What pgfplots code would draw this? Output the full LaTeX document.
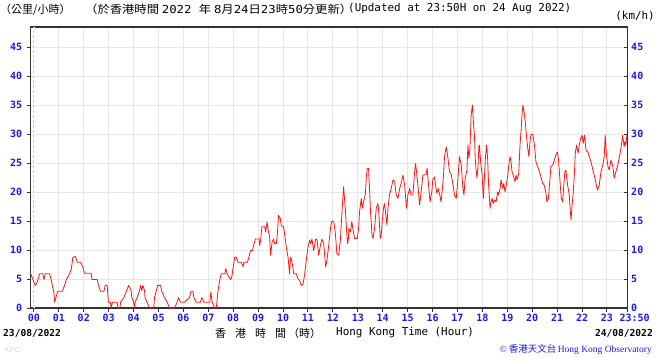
\documentclass[border=0pt]{standalone}
\usepackage{pgfplots}
\pgfplotsset{compat=1.18}
\usepackage{pgfplotstable}
\usepackage{fontspec}
\setmainfont{DejaVu Sans Mono}
\newfontfamily\cjk{Noto Sans CJK TC}
\newfontfamily\mono{DejaVu Sans Mono}
\newfontfamily\serif{Liberation Serif}
\newfontfamily\sans{Liberation Sans}
\definecolor{tickblue}{RGB}{25,25,235}
\definecolor{gridgray}{RGB}{230,230,230}
\definecolor{axisgray}{RGB}{50,50,50}
\definecolor{hkored}{RGB}{255,20,20}

\pgfplotstableread{
h v
-0.13 5.9
-0.04 4.9
0.05 3.9
0.13 4.4
0.23 5.9
0.36 5.9
0.40 4.9
0.46 5.9
0.63 5.9
0.70 4.7
0.80 2.7
0.83 1.0
0.90 2.1
0.96 2.9
1.14 2.9
1.23 3.9
1.30 4.9
1.43 5.9
1.50 6.7
1.56 8.7
1.67 8.9
1.74 7.9
1.87 7.9
1.97 7.0
2.03 6.0
2.30 6.0
2.33 4.9
2.54 4.9
2.59 3.9
2.67 2.9
2.81 2.9
2.86 3.9
2.94 3.9
2.99 1.0
3.07 1.0
3.10 0
3.15 1.0
3.34 1.0
3.37 0
3.45 0
3.48 1.0
3.61 1.8
3.72 3.0
3.80 3.9
3.90 3.0
3.93 1.8
4.00 1.0
4.04 0
4.06 1.0
4.14 1.8
4.24 3.0
4.28 3.9
4.33 3.0
4.37 3.9
4.44 3.0
4.46 1.8
4.54 1.0
4.64 0
4.81 0
4.84 1.8
4.91 3.0
4.97 3.9
5.08 3.9
5.13 2.9
5.24 1.8
5.35 1.0
5.44 0
5.64 0
5.75 1.0
5.80 1.8
5.88 1.0
6.04 1.0
6.24 1.8
6.31 2.9
6.38 2.9
6.42 1.8
6.51 1.0
6.68 1.0
6.74 1.8
6.82 1.0
7.06 1.0
7.10 2.8
7.15 1.0
7.26 0
7.32 0
7.39 3.0
7.46 4.8
7.52 5.9
7.66 5.9
7.70 6.8
7.75 5.9
7.83 5.3
7.90 4.9
7.95 5.6
8.00 7.1
8.06 8.8
8.12 8.8
8.19 7.9
8.33 7.9
8.39 7.1
8.43 7.9
8.57 7.9
8.63 8.8
8.69 9.9
8.77 9.9
8.82 10.8
8.89 11.9
9.04 11.9
9.06 10.8
9.10 11.8
9.15 14.0
9.26 14.0
9.30 13.1
9.36 14.8
9.40 13.4
9.46 12.3
9.50 9.1
9.56 11.4
9.62 11.9
9.66 11.1
9.73 11.1
9.77 12.8
9.82 16.0
9.89 15.4
9.93 14.2
10.02 14.0
10.06 12.8
10.13 10.5
10.20 8.8
10.26 5.9
10.30 8.8
10.36 7.9
10.43 5.9
10.53 5.9
10.60 5.0
10.66 4.8
10.73 3.9
10.80 4.1
10.87 5.9
10.93 8.2
11.00 10.5
11.07 11.7
11.11 11.1
11.16 11.9
11.23 9.9
11.31 11.9
11.36 11.9
11.43 9.1
11.50 10.8
11.56 11.9
11.63 11.1
11.71 7.1
11.77 8.5
11.84 11.1
11.91 14.0
11.96 15.0
12.04 14.8
12.10 12.8
12.16 9.4
12.23 9.1
12.30 11.7
12.36 16.3
12.43 20.9
12.50 17.0
12.56 12.6
12.59 11.1
12.62 11.9
12.64 13.7
12.70 13.1
12.76 14.9
12.80 13.7
12.87 12.0
12.98 12.0
13.03 13.7
13.07 16.6
13.14 18.9
13.18 17.2
13.23 18.3
13.30 19.5
13.34 22.4
13.38 24.1
13.43 24.1
13.47 20.6
13.51 16.6
13.57 12.6
13.61 12.0
13.67 13.7
13.74 17.2
13.81 18.0
13.85 16.0
13.90 12.0
13.94 12.6
13.98 14.9
14.03 17.2
14.07 18.0
14.11 16.6
14.17 14.3
14.21 17.2
14.27 19.5
14.34 20.6
14.41 22.1
14.48 21.8
14.54 19.5
14.61 18.9
14.68 20.6
14.74 21.5
14.81 22.9
14.88 21.2
14.92 18.9
14.96 17.2
15.01 19.5
15.08 20.6
15.14 19.5
15.21 19.5
15.28 23.5
15.32 24.9
15.37 22.9
15.41 21.2
15.48 17.8
15.54 20.0
15.61 22.9
15.74 23.0
15.78 24.1
15.84 21.2
15.90 18.3
15.97 20.0
16.01 22.1
16.08 22.6
16.12 21.2
16.17 19.8
16.23 20.6
16.29 19.5
16.34 18.3
16.39 20.3
16.44 22.9
16.48 26.1
16.55 27.8
16.61 26.1
16.68 23.5
16.75 23.0
16.81 21.5
16.88 19.5
16.95 18.9
17.01 21.8
17.08 26.1
17.15 24.7
17.22 20.6
17.26 19.5
17.31 22.4
17.38 23.8
17.42 28.1
17.46 25.8
17.50 27.5
17.55 33.3
17.60 35.0
17.64 32.1
17.68 29.8
17.72 25.2
17.78 22.4
17.82 24.1
17.86 27.8
17.88 28.1
17.93 25.2
17.99 22.9
18.04 18.9
18.08 22.4
18.12 25.8
18.17 28.1
18.21 25.8
18.25 21.2
18.31 17.2
18.35 18.3
18.39 18.9
18.44 18.0
18.48 18.6
18.55 18.3
18.61 20.0
18.65 19.5
18.71 20.6
18.75 22.1
18.82 20.6
18.86 21.5
18.91 20.0
18.98 21.8
19.02 22.9
19.06 24.6
19.11 26.1
19.15 25.2
19.19 23.5
19.24 22.9
19.31 21.8
19.35 22.9
19.39 22.1
19.46 23.2
19.51 28.1
19.55 30.4
19.59 33.3
19.63 35.0
19.68 33.6
19.72 32.1
19.78 29.2
19.83 27.2
19.87 26.1
19.91 28.7
19.95 29.9
20.02 30.0
20.09 28.1
20.15 25.2
20.22 24.4
20.29 23.5
20.35 22.6
20.42 21.5
20.48 21.2
20.55 19.8
20.59 18.3
20.65 18.9
20.71 22.1
20.75 24.4
20.82 24.6
20.89 25.5
20.95 26.4
21.01 26.9
21.05 25.8
21.09 23.5
21.13 20.9
21.17 18.9
21.22 18.3
21.26 20.6
21.31 23.5
21.35 23.8
21.42 21.2
21.49 19.5
21.52 17.2
21.56 15.2
21.60 17.8
21.64 19.5
21.69 22.9
21.73 26.7
21.78 28.1
21.84 26.7
21.89 28.1
21.94 29.2
22.00 29.8
22.05 28.4
22.10 29.8
22.16 27.2
22.23 26.9
22.29 26.1
22.36 25.2
22.42 24.1
22.49 22.9
22.56 21.5
22.62 20.3
22.69 21.2
22.76 23.5
22.83 24.6
22.89 26.1
22.93 29.8
22.98 26.4
23.04 24.4
23.09 23.8
23.16 25.5
23.23 24.6
23.29 22.4
23.36 23.5
23.43 24.6
23.49 25.8
23.56 27.5
23.63 29.8
23.69 27.8
23.72 28.7
23.76 28.1
23.80 29.8
23.833 30.0
}\wind

\begin{document}
\begin{tikzpicture}
\path[use as bounding box] (-30.7pt,-49pt) rectangle (625.3pt,308pt);
\begin{axis}[
  at={(0pt,0pt)}, anchor=south west,
  scale only axis, width=597pt, height=281pt,
  xmin=-0.13, xmax=23.833, ymin=0, ymax=48.45,
  xtick={0,1,...,23},
  xticklabels={00,01,02,03,04,05,06,07,08,09,10,11,12,13,14,15,16,17,18,19,20,21,22,23},
  extra x ticks={23.833},
  extra x tick labels={23:50},
  extra x tick style={grid=none, tick label style={xshift=7pt}},
  ytick={0,5,...,45},
  ytick pos=left, xtick pos=bottom,
  tick align=outside,
  major tick length=4pt,
  tick style={axisgray, line width=1pt},
  grid=major,
  major grid style={gridgray, line width=1pt},
  axis line style={axisgray, line width=1.3pt},
  /pgf/number format/assume math mode=true,
  ticklabel style={font=\mono\bfseries\fontsize{10}{10}\selectfont, text=tickblue},
  x tick label style={yshift=1pt},
  y tick label style={xshift=-1pt},
  clip=true,
]
\draw[white, line width=1.2pt] (axis cs:0,0) -- (axis cs:0,48.45);
\draw[gray!40, line width=1pt, dash pattern=on 3pt off 2pt] (axis cs:0,0) -- (axis cs:0,48.45);
\addplot[hkored, line width=0.8pt, line join=round] table[x=h, y=v] {\wind};
\end{axis}
\begin{axis}[
  at={(0pt,0pt)}, anchor=south west,
  scale only axis, width=597pt, height=281pt,
  xmin=-0.13, xmax=23.833, ymin=0, ymax=48.45,
  axis x line=none,
  axis y line*=right,
  ytick={0,5,...,45},
  tick align=inside,
  major tick length=4pt,
  tick style={axisgray, line width=1pt},
  axis line style={axisgray, line width=1.3pt, -},
  /pgf/number format/assume math mode=true,
  ticklabel style={font=\mono\bfseries\fontsize{10}{10}\selectfont, text=tickblue},
]
\end{axis}
% header texts
\node[anchor=west, inner sep=0pt] at (-30.7pt,298pt) {\cjk\fontsize{11}{11}\selectfont （公里/小時）};
\node[anchor=west, inner sep=0pt] at (54.3pt,299pt) {\scalebox{1.12}[1]{\fontsize{11}{11}\selectfont{\cjk （於香港時間 }{\mono 2022 }{\cjk 年 }{\mono 8}{\cjk 月}{\mono 24}{\cjk 日}{\mono 23}{\cjk 時}{\mono 50}{\cjk 分更新）}}};
\node[anchor=west, inner sep=0pt] at (317.3pt,299pt) {\mono\fontsize{10.9}{11}\selectfont (Updated at 23:50H on 24 Aug 2022)};
\node[anchor=east, inner sep=0pt] at (624.3pt,292pt) {\mono\fontsize{10.9}{11}\selectfont (km/h)};
% footer texts
\node[anchor=west, inner sep=0pt] at (-27.7pt,-25pt) {\mono\bfseries\fontsize{9.6}{10}\selectfont 23/08/2022};
\node[anchor=east, inner sep=0pt] at (622.3pt,-25pt) {\mono\bfseries\fontsize{9.6}{10}\selectfont 24/08/2022};
\node[anchor=west, inner sep=0pt] at (184.3pt,-25pt) {\cjk\fontsize{11}{11}\selectfont 香\hspace{9pt}港\hspace{9pt}時\hspace{9pt}間\hspace{2pt}（時）};
\node[anchor=west, inner sep=0pt] at (305.3pt,-25pt) {\mono\fontsize{10.9}{11}\selectfont Hong Kong Time (Hour)};
\node[anchor=west, inner sep=0pt, text=gray!35] at (-25.7pt,-42pt) {\sans\fontsize{7}{7}\selectfont KPC};
\node[anchor=east, inner sep=0pt, text=tickblue] at (621.3pt,-41pt) {\fontsize{9.5}{10}\selectfont{\serif ©}\,{\cjk 香港天文台}\,{\serif Hong Kong Observatory}};
\end{tikzpicture}
\end{document}
